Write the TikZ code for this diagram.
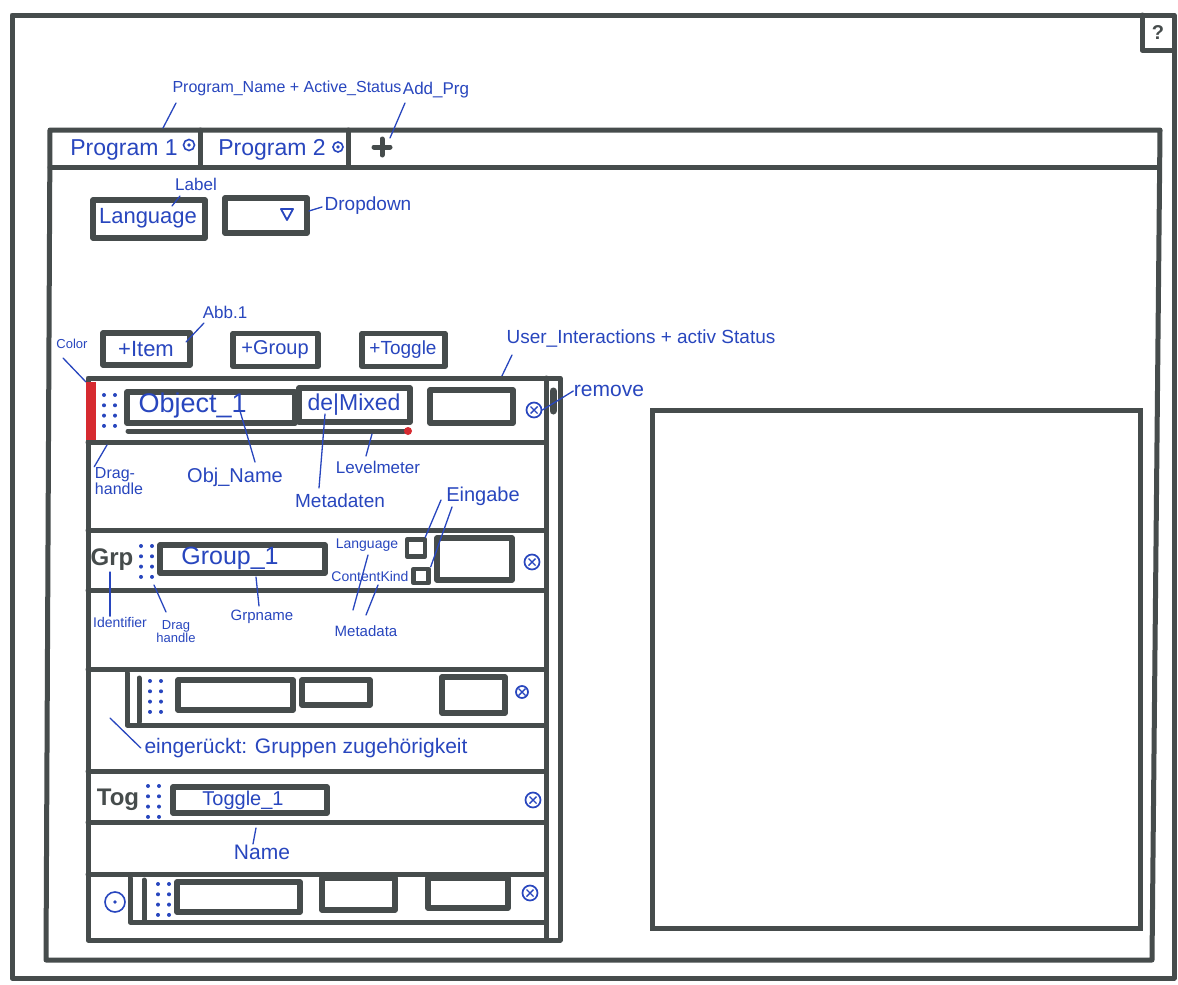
\documentclass[tikz,border=0pt]{standalone}
\usepackage{fontspec}
\setmainfont{Liberation Sans}
\definecolor{ink}{RGB}{40,70,190}
\definecolor{mk}{RGB}{70,76,76}
\definecolor{redmk}{RGB}{214,42,48}
\newcommand{\fsz}[1]{\fontsize{#1}{#1}\selectfont}
\tikzset{
  dragh/.pic={\foreach \i in {0,1}{\foreach \j in {0,1,2,3}{\fill[ink] (\i*11,\j*10.3) circle (2);}}}
}
\begin{document}
\begin{tikzpicture}[x=1pt,y=-1pt,
  frame/.style={draw=mk,line width=5pt,line cap=round,line join=round},
  wbox/.style={draw=mk,line width=5.5pt,line join=round,rectangle,inner sep=0pt},
  lbl/.style={text=ink,inner sep=0.5pt,font=\fsz{#1}},
  lbl/.default=16,
  mtxt/.style={text=mk,inner sep=0pt,font=\fsz{#1}\bfseries},
  conn/.style={draw=ink,line width=1.3pt,line cap=round},
  xbtn/.style={circle,draw=ink,line width=1.7pt,minimum size=15pt,inner sep=0pt,
    path picture={\draw[ink,line width=1.4pt]
      ([shift={(-3.5pt,-3.5pt)}]path picture bounding box.center) -- ([shift={(3.5pt,3.5pt)}]path picture bounding box.center)
      ([shift={(-3.5pt,3.5pt)}]path picture bounding box.center) -- ([shift={(3.5pt,-3.5pt)}]path picture bounding box.center);}},
  xbtns/.style={xbtn,minimum size=12pt},
  odot/.style={circle,draw=ink,line width=1.6pt,minimum size=#1,inner sep=0pt,
    path picture={\fill[ink] (path picture bounding box.center) circle (1.8pt);}}
]
\fill[white] (0,0) rectangle (1178,985);
\useasboundingbox (0,0) rectangle (1178,985);

% outer frame and help
\draw[frame] (12,15) -- (1174,15) -- (1174,978) -- (12,978) -- cycle;
\draw[frame] (1142,15) -- (1142,50) -- (1174,50);
\node[text=mk,font=\fsz{20}\bfseries] (help) at (1158,33) {?};

% inner frame with tabs
\draw[frame] (50,130) -- (1160,130) -- (1152,960) -- (46,960) -- cycle;
\draw[frame] (50,167) -- (1159,167);
\draw[frame] (200,130) -- (200,167);
\draw[frame] (348,130) -- (348,167);
\node[lbl=23] (tab1) at (124,150) {Program 1};
\node[odot=11pt] (st1) at (189,145) {};
\node[lbl=23] (tab2) at (272,150) {Program 2};
\node[odot=10pt] (st2) at (338,147) {};
\coordinate (addp) at (382,147);
\draw[mk,line width=5pt,line cap=round] (374,147) -- (390,147) (382,139) -- (382,155);

\node[lbl=16] (pnl) at (287,88) {Program\_Name + Active\_Status};
\coordinate (pna) at (176,103);
\coordinate (pnt) at (163,128);
\draw[conn] (pna) -- (pnt);
\node[lbl=17] (addl) at (436,90) {Add\_Prg};
\coordinate (ada) at (405,103);
\coordinate (adt) at (390,138);
\draw[conn] (ada) -- (adt);

% language row
\node[wbox,minimum width=112pt,minimum height=38pt] (langbox) at (149,219) {};
\node[lbl=22] (langtxt) at (148,218) {Language};
\node[lbl=17] (labellbl) at (196,184) {Label};
\coordinate (lba) at (180,196);
\coordinate (lbt) at (172,206);
\draw[conn] (lba) -- (lbt);
\node[wbox,minimum width=82pt,minimum height=35pt] (dd) at (266,215.5) {};
\draw[ink,line width=1.8pt,line join=round] (281,209) -- (293,209) -- (287,220) -- cycle;
\node[lbl=19] (ddlbl) at (368,206) {Dropdown};
\coordinate (dda) at (309,211);
\coordinate (ddt) at (322,207);
\draw[conn] (dda) -- (ddt);

% buttons
\node[wbox,minimum width=87pt,minimum height=32pt] (bitem) at (146.5,349) {};
\node[lbl=22] (titem) at (146,349) {+Item};
\node[wbox,minimum width=85pt,minimum height=33pt] (bgrp) at (275.5,350) {};
\node[lbl=20] (tgrp) at (275,350) {+Group};
\node[wbox,minimum width=83pt,minimum height=33pt] (btog) at (403.5,350) {};
\node[lbl=19] (ttog) at (403,350) {+Toggle};
\node[lbl=17] (abb) at (225,312) {Abb.1};
\coordinate (aba) at (204,323);
\coordinate (abt) at (186,342);
\draw[conn] (aba) -- (abt);
\node[lbl=13] (colorlbl) at (72,344) {Color};
\coordinate (cla) at (63,358);
\coordinate (clt) at (86,382);
\draw[conn] (cla) -- (clt);
\node[lbl=19] (uilbl) at (641,338) {User\_Interactions + activ Status};
\coordinate (uia) at (512,355);
\coordinate (uit) at (500,380);
\draw[conn] (uia) -- (uit);

% list container
\draw[frame] (88,378) -- (560,378) -- (560,940) -- (88,940) -- cycle;
\draw[frame] (546,378) -- (546,940);
\draw[mk,line width=7pt,line cap=round] (553,391) -- (553,411);
\foreach \yy in {442,530,590,669,771,822,874}{\draw[frame] (88,\yy) -- (546,\yy);}

% object row
\fill[redmk] (86,382) rectangle (96,440);
\pic at (104,395) {dragh};
\node[wbox,minimum width=168pt,minimum height=31pt] (objbox) at (211,407.5) {};
\node[lbl=27,anchor=west] (objtxt) at (138,406) {Object\_1};
\node[wbox,minimum width=111pt,minimum height=34pt] (metabox) at (354.5,405) {};
\node[lbl=23] (metatxt) at (354,405) {de|Mixed};
\draw[mk,line width=5pt,line cap=round] (128,431) -- (404,431);
\fill[redmk] (408,431) circle (4);
\node[wbox,minimum width=83pt,minimum height=33pt] (inbox1) at (471.5,406.5) {};
\node[xbtn] (rm1) at (534,410) {};
\node[lbl=21] (rmlbl) at (609,391) {remove};
\draw[conn] (rm1.east) -- (rmlbl.west);

\node[lbl=16,align=left] (draglbl) at (119,481) {Drag-\\handle};
\coordinate (dga) at (107,445);
\draw[conn] (dga) -- (draglbl.north west);
\node[lbl=20] (objname) at (235,477) {Obj\_Name};
\coordinate (ona) at (240,411);
\coordinate (ont) at (255,462);
\draw[conn] (ona) -- (ont);
\node[lbl=19] (metalbl) at (340,501) {Metadaten};
\coordinate (mta) at (325,414);
\coordinate (mtt) at (319,488);
\draw[conn] (mta) -- (mtt);
\node[lbl=17] (lvllbl) at (378,467) {Levelmeter};
\coordinate (lva) at (372,434);
\coordinate (lvt) at (366,456);
\draw[conn] (lva) -- (lvt);
\node[lbl=20] (eing) at (483,496) {Eingabe};

% group row
\node[mtxt=24] (grp) at (112,560) {Grp};
\pic at (141,546) {dragh};
\node[wbox,minimum width=165pt,minimum height=28pt] (grpbox) at (242.5,559) {};
\node[lbl=25] (grptxt) at (230,558) {Group\_1};
\node[lbl=14] (langsm) at (367,545) {Language};
\node[wbox,line width=4.5pt,minimum width=18pt,minimum height=17pt] (cbl) at (416,548) {};
\node[lbl=14] (cksm) at (370,576) {ContentKind};
\node[wbox,line width=4.5pt,minimum width=15pt,minimum height=14pt] (cbc) at (421,576) {};
\node[wbox,minimum width=75pt,minimum height=42pt] (inbox2) at (474.5,559) {};
\node[xbtn] (rm2) at (532,562) {};
\coordinate (eia) at (441,500);
\coordinate (eib) at (452,507);
\draw[conn] (eia) -- ([xshift=-2pt]cbl.north east);
\draw[conn] (eib) -- (cbc.north east);

\node[lbl=14] (identl) at (120,622) {Identifier};
\coordinate (ida) at (110,572);
\draw[conn] (ida) -- ([xshift=-10pt]identl.north);
\node[lbl=13,align=center] (dragl2) at (176,632) {Drag\\handle};
\coordinate (dha) at (154,585);
\coordinate (dht) at (166,612);
\draw[conn] (dha) -- (dht);
\node[lbl=15] (gnl) at (262,617) {Grpname};
\coordinate (gna) at (256,577);
\coordinate (gnt) at (259,606);
\draw[conn] (gna) -- (gnt);
\node[lbl=15] (mdl) at (366,631) {Metadata};
\coordinate (mda) at (353,610);
\coordinate (mdt) at (368,555);
\coordinate (mdb) at (366,615);
\coordinate (mdc) at (378,585);
\draw[conn] (mda) -- (mdt);
\draw[conn] (mdb) -- (mdc);

% indented row
\draw[frame] (127,673) -- (127,725) -- (546,725);
\draw[frame] (139,678) -- (139,722);
\pic at (150,681) {dragh};
\node[wbox,minimum width=115pt,minimum height=30pt] (b31) at (235.5,695) {};
\node[wbox,minimum width=68pt,minimum height=25pt] (b32) at (336,692.5) {};
\node[wbox,minimum width=63pt,minimum height=36pt] (b33) at (473.5,695) {};
\node[xbtns] (rm3) at (522,692) {};
\node[lbl=21] (indl) at (306,748) {eingerückt: Gruppen zugehörigkeit};
\coordinate (ina) at (110,718);
\draw[conn] (ina) -- ([xshift=-3pt]indl.west);

% toggle row
\node[mtxt=24] (tog) at (118,800) {Tog};
\pic at (148,786) {dragh};
\node[wbox,minimum width=154pt,minimum height=26pt] (togbox) at (250,800) {};
\node[lbl=20] (togtxt) at (243,800) {Toggle\_1};
\node[xbtn] (rm4) at (533,800) {};
\node[lbl=21] (namel) at (262,852) {Name};
\coordinate (nma) at (256,828);
\draw[conn] (nma) -- ([xshift=-9pt]namel.north);

% last row
\node[odot=20pt] (col5) at (115,902) {};
\draw[frame] (130,878) -- (130,922) -- (546,922);
\draw[frame] (144,880) -- (144,920);
\pic at (158,884) {dragh};
\node[wbox,minimum width=123pt,minimum height=30pt] (b51) at (238.5,897) {};
\node[wbox,minimum width=73pt,minimum height=32pt] (b52) at (358.5,894) {};
\node[wbox,minimum width=80pt,minimum height=30pt] (b53) at (468,893) {};
\node[xbtn] (rm5) at (530,893) {};

% right panel
\node[draw=mk,line width=5pt,minimum width=488pt,minimum height=518pt,inner sep=0pt] (preview) at (896,669) {};
\end{tikzpicture}
\end{document}
